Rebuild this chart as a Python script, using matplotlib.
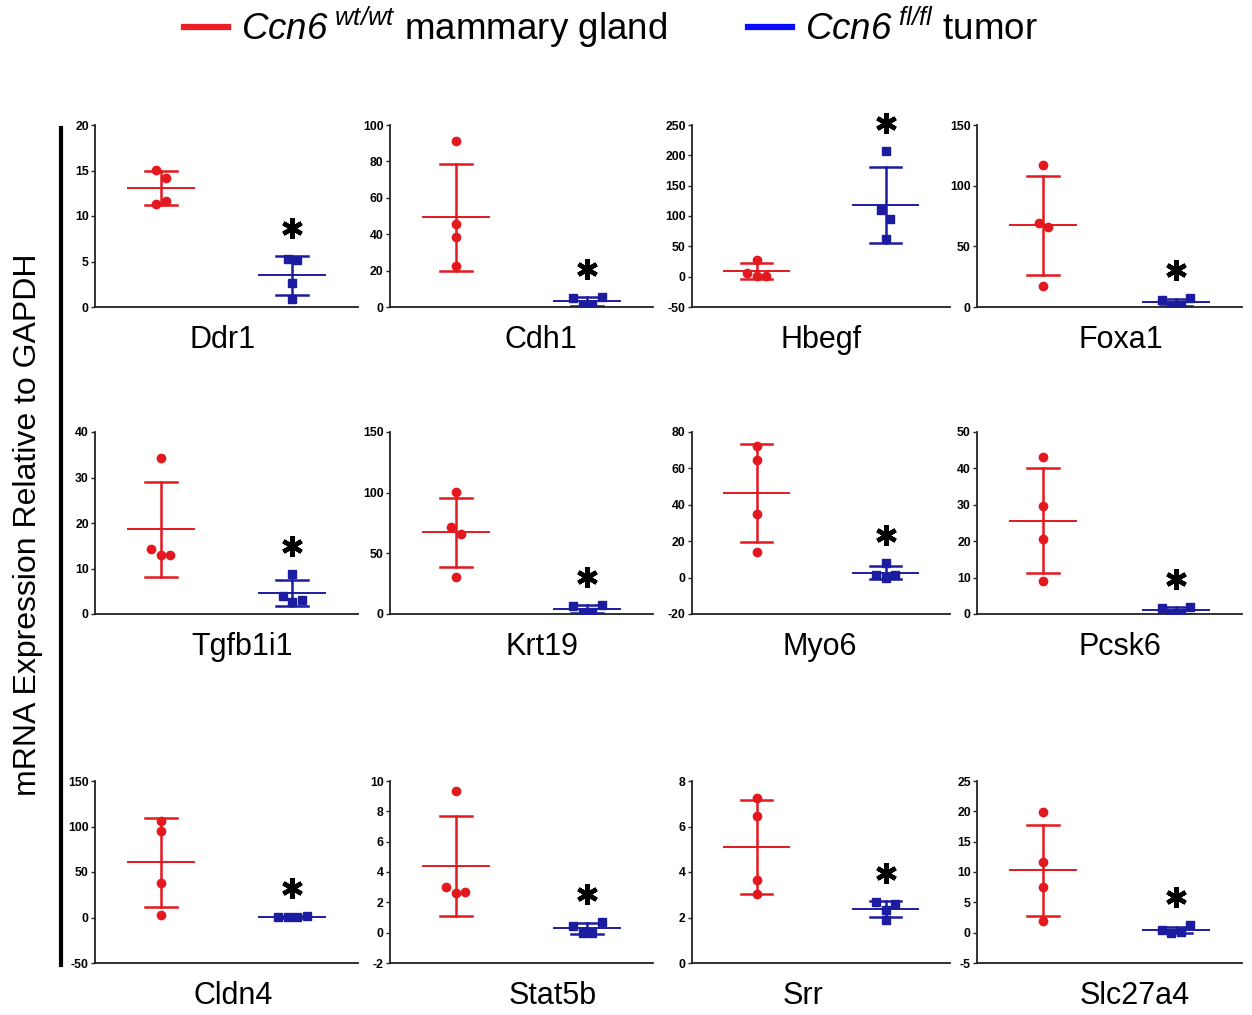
import numpy as np
import matplotlib
matplotlib.use("Agg")
import matplotlib.pyplot as plt
from matplotlib.lines import Line2D
from matplotlib.transforms import offset_copy

plt.rcParams['font.family'] = ['Liberation Sans', 'DejaVu Sans']
plt.rcParams['mathtext.fontset'] = 'custom'
plt.rcParams['mathtext.rm'] = 'Liberation Sans:italic'
plt.rcParams['mathtext.it'] = 'Liberation Sans:italic'

GENES = ["Ddr1", "Cdh1", "Hbegf", "Foxa1", "Tgfb1i1", "Krt19",
         "Myo6", "Pcsk6", "Cldn4", "Stat5b", "Srr", "Slc27a4"]
# Ccn6 wt/wt mammary gland (n=4 each)
WT = [[15.1, 14.2, 11.3, 11.7], [91, 45.5, 38.5, 22.5], [6, 28, 1.5, 1.0],
      [117, 69, 66, 17], [14.3, 34.3, 13.0, 13.0], [100.5, 72, 66, 30.5],
      [72.3, 64.5, 35, 14.3], [43, 29.8, 20.5, 9], [95, 106, 38, 3],
      [3.0, 9.35, 2.6, 2.7], [7.25, 6.45, 3.65, 3.05], [19.9, 11.6, 7.6, 2.0]]
# Ccn6 fl/fl tumor
FL = [[5.3, 5.2, 2.6, 0.9], [4.8, 0.6, 1.3, 5.6], [110, 207, 95, 62],
      [5.5, 1.2, 1.8, 7.2], [3.9, 8.7, 2.7, 3.1], [6.6, 0.8, 1.8, 7.8],
      [1.4, 7.8, -0.1, 1.3], [1.6, 0.1, 0.4, 2.0], [0.5, 0.3, 0.2, 2.0],
      [0.45, 0.0, 0.0, 0.72], [2.66, 1.9, 2.35, 2.6], [0.4, 0.0, 0.1, 1.2]]
YTICKS = [[0, 5, 10, 15, 20], [0, 20, 40, 60, 80, 100], [-50, 0, 50, 100, 150, 200, 250],
          [0, 50, 100, 150], [0, 10, 20, 30, 40], [0, 50, 100, 150],
          [-20, 0, 20, 40, 60, 80], [0, 10, 20, 30, 40, 50], [-50, 0, 50, 100, 150],
          [-2, 0, 2, 4, 6, 8, 10], [0, 2, 4, 6, 8], [-5, 0, 5, 10, 15, 20, 25]]

RED, BLUE = "#e3191f", "#1c1ca0"
W, H = 1252, 1015
COL_L = [95, 390, 692, 977]
COL_R = [358, 653, 950, 1242]
ROW_T = [125, 432, 781]
ROW_B = [307, 614, 963]
LABEL_X = [223, 541, 821, 1121, 242, 542, 820, 1120, 233, 553, 803, 1135]


def swarm(vals, px_per_unit, xpx_per_unit, diam=9.5):
    """GraphPad-like spreading: close points are laid side by side."""
    vals = np.asarray(vals, float)
    order = np.argsort(-vals, kind="stable")
    offs = np.zeros(len(vals))
    clusters, cur = [], [order[0]]
    for a, b in zip(order[:-1], order[1:]):
        if abs(vals[a] - vals[b]) * px_per_unit < diam:
            cur.append(b)
        else:
            clusters.append(cur); cur = [b]
    clusters.append(cur)
    for c in clusters:
        c = sorted(c)
        n = len(c)
        for j, idx in enumerate(c):
            offs[idx] = (j - (n - 1) / 2) * diam / xpx_per_unit
    return offs


fig = plt.figure(figsize=(W / 100, H / 100), dpi=100)

for i, gene in enumerate(GENES):
    r, c = divmod(i, 4)
    l, rr, t, b = COL_L[c], COL_R[c], ROW_T[r], ROW_B[r]
    ax = fig.add_axes([l / W, 1 - b / H, (rr - l) / W, (b - t) / H])
    ticks = YTICKS[i]
    ax.set_xlim(-0.5, 1.5)
    ax.set_ylim(ticks[0], ticks[-1])
    ypx = (b - t) / (ticks[-1] - ticks[0])
    xpx = (rr - l) / 2.0
    tops = []
    for x0, vals, col, mk, ms in [(0, WT[i], RED, "o", 6), (1, FL[i], BLUE, "s", 5.5)]:
        v = np.asarray(vals, float)
        m, sd = v.mean(), v.std(ddof=1)
        ax.plot([x0, x0], [m - sd, m + sd], color=col, lw=1.8, zorder=2)
        for yy in (m - sd, m + sd):
            ax.plot([x0 - 0.12, x0 + 0.12], [yy, yy], color=col, lw=1.8, zorder=2)
        ax.plot([x0 - 0.25, x0 + 0.25], [m, m], color=col, lw=1.4, zorder=2)
        ax.plot(x0 + swarm(v, ypx, xpx), v, ls="none", marker=mk, ms=ms,
                color=col, zorder=3)
        tops.append(max(v.max(), m + sd))
    # significance asterisk above the tumor group
    tr = offset_copy(ax.transData, fig=fig, y=28, units="dots")
    ax.plot([1], [tops[1]], marker=(6, 2, 0), ms=15, mew=3.2, color="black",
            transform=tr, clip_on=False)
    ax.set_yticks(ticks)
    ax.set_yticklabels([str(t) for t in ticks], fontsize=8.8, fontweight="bold")
    ax.set_xticks([])
    for s in ("top", "right"):
        ax.spines[s].set_visible(False)
    for s in ("left", "bottom"):
        ax.spines[s].set_linewidth(1.3)
        ax.spines[s].set_color("#222222")
    ax.tick_params(axis="y", length=3, width=1, pad=1.5, color="#222222")
    fig.text(LABEL_X[i] / W, 1 - (b + 33) / H, gene, fontsize=22,
             ha="center", va="center")

fig.text(0.022, 1 - 525 / H, "mRNA Expression Relative to GAPDH", rotation=90,
         fontsize=23, ha="center", va="center")
fig.add_artist(Line2D([60.5 / W] * 2, [1 - 128 / H, 1 - 965 / H], lw=3, color="black"))

handles = [Line2D([], [], color="#ee1c24", lw=4.5), Line2D([], [], color="#0a0aff", lw=4.5)]
labels = [r"$Ccn6^{\ wt/wt}$ mammary gland",
          r"$Ccn6^{\ fl/fl}$ tumor"]
fig.legend(handles, labels, loc="center", bbox_to_anchor=(611 / W, 1 - 27 / H), ncol=2,
           frameon=False, fontsize=26.5, handlelength=1.2, handletextpad=0.35,
           columnspacing=2.2)

fig.savefig("out.png", dpi=100)
